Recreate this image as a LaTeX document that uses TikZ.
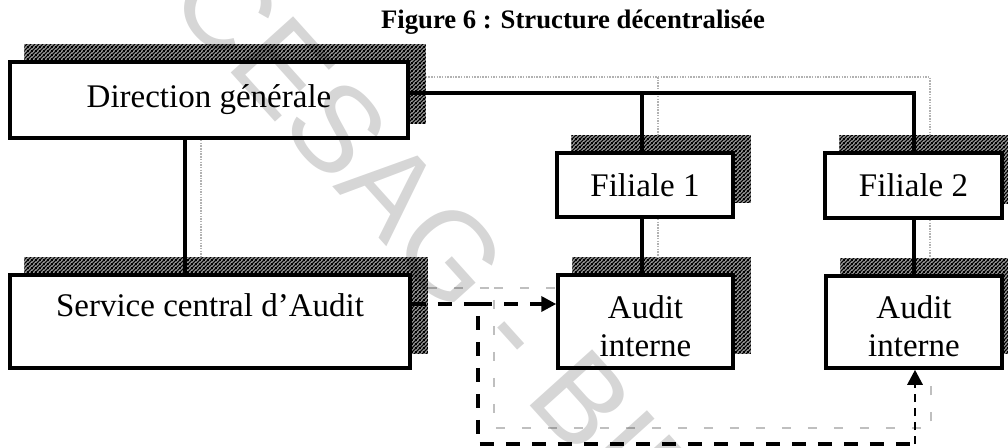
\documentclass[tikz,border=0pt]{standalone}
\usepackage{fontspec}
\setmainfont{Liberation Serif}
\newfontfamily\wmfont{Liberation Sans}
\usetikzlibrary{arrows.meta,patterns.meta,calc}

% dense diagonal hatching used for the drop shadows
\tikzdeclarepattern{
  name=hatch, type=uncolored,
  bounding box={(0,0) and (4pt,4pt)},
  tile size={(4pt,4pt)},
  code={
    \draw[line width=1.6pt] (-1pt,-1pt) -- (5pt,5pt);
    \draw[line width=1.6pt] (-1pt,3pt) -- (1pt,5pt);
    \draw[line width=1.6pt] (3pt,-1pt) -- (5pt,1pt);
  }}

\pgfdeclarelayer{bg}
\pgfsetlayers{bg,main}

\begin{document}
\begin{tikzpicture}[x=1pt,y=-1pt,
  box/.style={draw=black, line width=3.5pt, fill=white, inner sep=0pt,
    font=\fontsize{33}{38}\selectfont, align=center},
  lbl/.style={font=\fontsize{33}{38}\selectfont, inner sep=0pt, align=center},
  wire/.style={line width=3.5pt},
  link/.style={line width=3.5pt, dash pattern=on 14pt off 12pt},
  thinlink/.style={line width=2.8pt, dash pattern=on 8pt off 6pt},
  tip/.style={-{Triangle[length=15pt,width=15pt]}},
  shadebase/.style={fill=black!28},
  shade/.style={pattern=hatch, pattern color=black},
  trace/.style={line width=1.2pt, black!30, dash pattern=on 1.5pt off 1.2pt},
  dtrace/.style={line width=1.2pt, black!25, dash pattern=on 9pt off 17pt},
]
\useasboundingbox (0,0) rectangle (1008,447);
\clip (0,0) rectangle (1008,447);

% title
\node[font=\bfseries\fontsize{26.7}{32}\selectfont, inner sep=0pt] (title) at (573,22)
  {Figure 6 : Structure décentralisée};

% organisation boxes
\node[box, minimum width=398pt, minimum height=76pt] (dg) at (209,100) {Direction générale};
\node[box, minimum width=400pt, minimum height=93pt] (sca) at (210,321.5) {};
\node[lbl] (scat) at (210,305) {Service central d’Audit};
\node[box, minimum width=176pt, minimum height=64pt] (f1) at (645,185) {Filiale 1};
\node[box, minimum width=177pt, minimum height=65pt] (f2) at (913.5,185.5) {Filiale 2};
\node[box, minimum width=175pt, minimum height=93pt] (a1) at (645.5,321.5) {};
\node[box, minimum width=176pt, minimum height=92pt] (a2) at (914,322) {};
\node[lbl] (a1t) at (645.5,326) {Audit\\interne};
\node[lbl] (a2t) at (914,326) {Audit\\interne};

% routing points
\coordinate (v0) at (185,0);
\coordinate (v1) at (642,93);
\coordinate (v2) at (914,93);
\coordinate (j) at (478,304);
\coordinate (k) at (478,444);
\coordinate (m) at (915,444);

% drop shadows of boxes and connectors
\begin{pgfonlayer}{bg}
  \foreach \n in {dg,sca,f1,f2,a1,a2}{
    \fill[shadebase] ([shift={(16,-16)}]\n.south west) rectangle ([shift={(16,-16)}]\n.north east);
    \fill[shade] ([shift={(16,-16)}]\n.south west) rectangle ([shift={(16,-16)}]\n.north east);
  }
  \begin{scope}[transform canvas={shift={(16pt,16pt)}}]
    \draw[trace] (v0 |- dg.south) -- (v0 |- sca.north);
    \draw[trace] (dg.east |- v2) -- (v2) -- (v2 |- f2.north);
    \draw[trace] (v1) -- (v1 |- f1.north);
    \draw[trace] (v1 |- f1.south) -- (v1 |- a1.north);
    \draw[trace] (v2 |- f2.south) -- (v2 |- a2.north);
    \draw[dtrace] (sca.east |- j) -- (j) -- (k) -- (m) -- (m |- a2.south);
    \draw[dtrace] (j) -- (a1.west |- j);
  \end{scope}
\end{pgfonlayer}

% hierarchy
\draw[wire] (v0 |- dg.south) -- (v0 |- sca.north);
\draw[wire] (dg.east |- v2) -- (v2) -- (v2 |- f2.north);
\draw[wire] (v1) -- (v1 |- f1.north);
\draw[wire] (v1 |- f1.south) -- (v1 |- a1.north);
\draw[wire] (v2 |- f2.south) -- (v2 |- a2.north);

% functional links of the central audit service
\draw[link] (sca.east |- j) -- (j) -- (k) -- (m);
\draw[link, tip] (j) -- (a1.west |- j);
\draw[thinlink, tip] (m) -- (m |- a2.south);

% library stamp across the page
\begin{scope}[blend mode=multiply]
  \node[font=\wmfont\fontsize{122}{122}\selectfont, text=black!16, rotate=-48,
    anchor=base west, inner sep=0pt] (stamp) at (165,0) {CESAG - BIBLIOTHEQUE};
\end{scope}
\end{tikzpicture}
\end{document}
